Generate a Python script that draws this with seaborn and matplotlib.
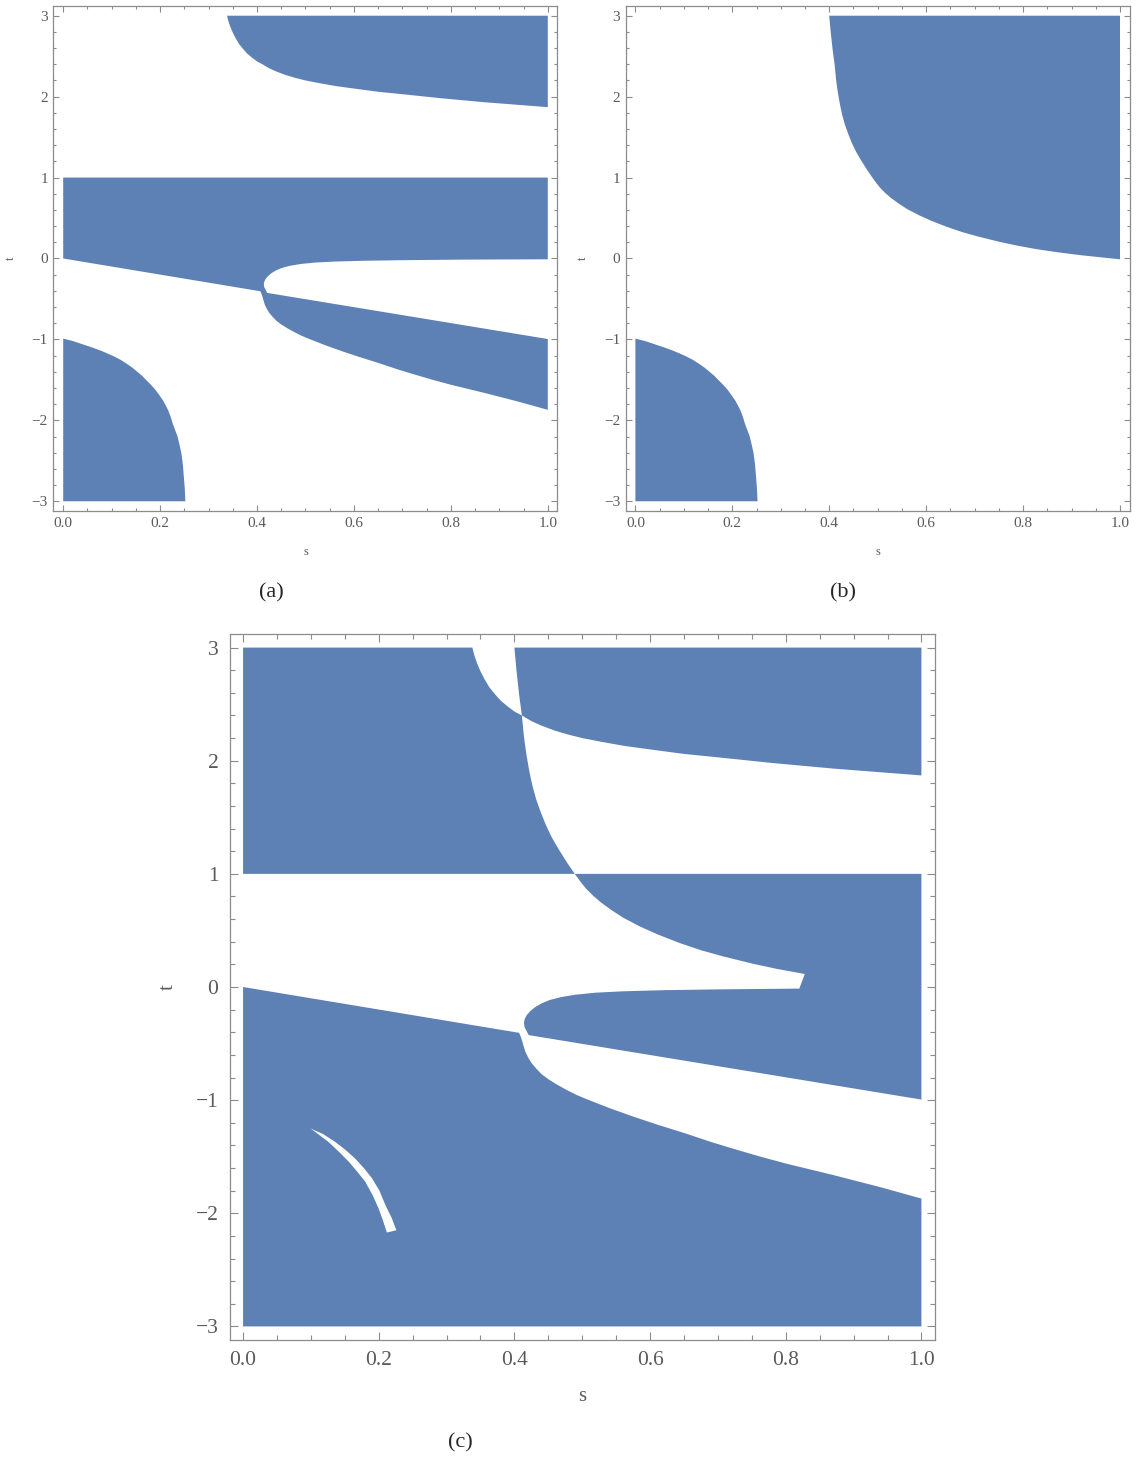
import matplotlib
matplotlib.use("Agg")
import matplotlib.pyplot as plt
from matplotlib.ticker import MultipleLocator, FormatStrFormatter
import seaborn as sns

sns.set_theme(style="ticks")
plt.rcParams["font.family"] = ["Liberation Serif", "DejaVu Serif"]

REGION_BLUE = "#5E81B5"
FRAME_GREY = "#8c8c8c"
LABEL_GREY = "#5a5a5a"

# ---- boundary curves in the (s, t) plane ----
# straight edge t ~ -s, split at the neck near s = 0.41
line_left_s = [0.0, 0.407]
line_left_t = [0.0, -0.405]
line_right_s = [0.421, 1.0]
line_right_t = [-0.425, -0.995]

# upper curve A (top-right region of panel a); it meets F at (0.411, 2.40)
curve_a_s = [0.338, 0.341, 0.345, 0.350, 0.356, 0.363, 0.371, 0.380, 0.390, 0.400,
             0.411, 0.425, 0.440, 0.460, 0.480, 0.500, 0.530, 0.563, 0.600, 0.650,
             0.700, 0.780, 0.871, 1.000]
curve_a_t = [3.00, 2.93, 2.86, 2.79, 2.72, 2.65, 2.59, 2.53, 2.48, 2.435,
             2.40, 2.35, 2.31, 2.265, 2.23, 2.20, 2.165, 2.13, 2.10, 2.06,
             2.03, 1.98, 1.93, 1.87]

# steep curve F (top-right region of panel b)
curve_f_s = [0.400, 0.403, 0.407, 0.411, 0.4143, 0.4178, 0.4222, 0.4265, 0.432, 0.4385,
             0.4465, 0.4553, 0.465, 0.4775, 0.489, 0.4975, 0.5055, 0.5155, 0.527, 0.543,
             0.561, 0.585, 0.611, 0.643, 0.675, 0.708, 0.752, 0.787, 0.828, 0.870,
             0.920, 0.960, 1.000]
curve_f_t = [3.00, 2.80, 2.58, 2.40, 2.20, 2.05, 1.90, 1.78, 1.66, 1.55,
             1.43, 1.32, 1.22, 1.10, 1.00, 0.93, 0.87, 0.81, 0.75, 0.68,
             0.61, 0.535, 0.465, 0.39, 0.325, 0.27, 0.205, 0.16, 0.115, 0.078,
             0.04, 0.015, -0.01]

# tongue edge C, from the neck round its tip and out to s = 1
curve_c_s = [0.418, 0.415, 0.414, 0.415, 0.418, 0.423, 0.430, 0.440, 0.452, 0.468,
             0.490, 0.520, 0.560, 0.620, 0.700, 0.820, 0.900, 1.000]
curve_c_t = [-0.39, -0.355, -0.32, -0.285, -0.25, -0.215, -0.18, -0.145, -0.115, -0.09,
             -0.068, -0.05, -0.038, -0.028, -0.021, -0.014, -0.012, -0.01]

# lower curve D, leaving the neck and running to s = 1
curve_d_s = [0.407, 0.410, 0.413, 0.416, 0.420, 0.425, 0.432, 0.440, 0.450, 0.462,
             0.477, 0.492, 0.508, 0.540, 0.575, 0.610, 0.650, 0.690, 0.723, 0.760,
             0.800, 0.872, 0.940, 1.000]
curve_d_t = [-0.405, -0.45, -0.51, -0.57, -0.62, -0.67, -0.72, -0.77, -0.815, -0.86,
             -0.91, -0.955, -0.995, -1.07, -1.145, -1.215, -1.29, -1.37, -1.43, -1.495,
             -1.56, -1.665, -1.77, -1.87]

# bottom-left curve E
curve_e_s = [0.000, 0.020, 0.040, 0.060, 0.076, 0.090, 0.105, 0.118, 0.131, 0.143,
             0.153, 0.163, 0.172, 0.181, 0.190, 0.198, 0.206, 0.212, 0.217, 0.222,
             0.226, 0.231, 0.236, 0.240, 0.244, 0.247, 0.249, 0.251, 0.252]
curve_e_t = [-0.99, -1.02, -1.06, -1.10, -1.135, -1.17, -1.21, -1.25, -1.30, -1.35,
             -1.40, -1.45, -1.506, -1.56, -1.62, -1.685, -1.754, -1.82, -1.88, -1.96,
             -2.04, -2.12, -2.20, -2.30, -2.41, -2.55, -2.70, -2.85, -3.00]

# thin excluded crescent in panel c (closed outline)
crescent_s = [0.099, 0.118, 0.136, 0.151, 0.165, 0.178, 0.190, 0.201, 0.210, 0.219,
              0.226, 0.212, 0.206, 0.200, 0.191, 0.180, 0.168, 0.156, 0.142, 0.126,
              0.104]
crescent_t = [-1.25, -1.30, -1.37, -1.44, -1.515, -1.60, -1.69, -1.80, -1.93, -2.04,
              -2.15, -2.17, -2.06, -1.96, -1.84, -1.72, -1.63, -1.545, -1.46, -1.37,
              -1.27]

S_MIN, S_MAX = 0.0, 1.0
T_MIN, T_MAX = -3.0, 3.0
T_BAND = 1.0

# vertices where curves meet or where panel c cuts them
A_CROSS = curve_a_s.index(0.411)
F_CROSS = curve_f_s.index(0.411)
F_AT_ONE = curve_f_t.index(T_BAND)
F_CUT = curve_f_s.index(0.828)
C_CUT = curve_c_s.index(0.820)


def pts(xs, ys, lo=None, hi=None, rev=False):
    p = list(zip(xs, ys))[lo:hi]
    return p[::-1] if rev else p


def fill(ax, *pieces, color=REGION_BLUE):
    verts = [v for piece in pieces for v in piece]
    ax.fill([v[0] for v in verts], [v[1] for v in verts], color=color, lw=0,
            antialiased=True, zorder=2)


def style_axes(ax, tick_size, label_size, major_len, minor_len, tpad, xpad, ypad):
    ax.set_xlim(-0.02, 1.02)
    ax.set_ylim(-3.12, 3.12)
    ax.xaxis.set_major_locator(MultipleLocator(0.2))
    ax.xaxis.set_minor_locator(MultipleLocator(0.05))
    ax.yaxis.set_major_locator(MultipleLocator(1))
    ax.yaxis.set_minor_locator(MultipleLocator(0.2))
    ax.xaxis.set_major_formatter(FormatStrFormatter("%.1f"))
    ax.tick_params(which="both", direction="in", top=True, right=True,
                   labeltop=False, labelright=False, color=FRAME_GREY,
                   width=0.8, labelcolor=LABEL_GREY, labelsize=tick_size)
    ax.tick_params(which="major", length=major_len, pad=tpad)
    ax.tick_params(which="minor", length=minor_len)
    for sp in ax.spines.values():
        sp.set_color(FRAME_GREY)
        sp.set_linewidth(0.9)
    ax.set_xlabel("s", fontsize=label_size, color=LABEL_GREY, labelpad=xpad)
    ax.set_ylabel("t", fontsize=label_size, color=LABEL_GREY, labelpad=ypad)
    ax.set_facecolor("white")
    ax.grid(False)


fig = plt.figure(figsize=(11.37, 14.59), dpi=100)
ax_a = fig.add_axes([0.04705, 0.64976, 0.44327, 0.34613])
ax_b = fig.add_axes([0.55030, 0.64976, 0.44327, 0.34613])
ax_c = fig.add_axes([0.20185, 0.08156, 0.62049, 0.48389])

# ---- panel (a) ----
fill(ax_a, pts(curve_a_s, curve_a_t), [(S_MAX, T_MAX)])
fill(ax_a,
     [(S_MIN, T_BAND)],
     pts(line_left_s, line_left_t),
     pts(curve_d_s, curve_d_t, 1),
     pts(line_right_s, line_right_t, rev=True),
     pts(curve_c_s, curve_c_t),
     [(S_MAX, T_BAND)])
fill(ax_a, [(S_MIN, T_MIN)], pts(curve_e_s, curve_e_t))

# ---- panel (b) ----
fill(ax_b, pts(curve_f_s, curve_f_t), [(S_MAX, T_MAX)])
fill(ax_b, [(S_MIN, T_MIN)], pts(curve_e_s, curve_e_t))

# ---- panel (c) ----
fill(ax_c,
     [(S_MIN, T_BAND), (S_MIN, T_MAX)],
     pts(curve_a_s, curve_a_t, 0, A_CROSS + 1),
     pts(curve_f_s, curve_f_t, F_CROSS + 1, F_AT_ONE + 1))
fill(ax_c,
     pts(curve_f_s, curve_f_t, 0, 1),
     [(S_MAX, T_MAX)],
     pts(curve_a_s, curve_a_t, A_CROSS, rev=True),
     pts(curve_f_s, curve_f_t, 1, F_CROSS + 1, rev=True))
fill(ax_c,
     pts(curve_f_s, curve_f_t, F_AT_ONE, F_AT_ONE + 1),
     [(S_MAX, T_BAND)],
     pts(line_right_s, line_right_t, rev=True),
     pts(curve_c_s, curve_c_t, 0, C_CUT + 1),
     pts(curve_f_s, curve_f_t, F_AT_ONE + 1, F_CUT + 1, rev=True))
fill(ax_c,
     pts(line_left_s, line_left_t),
     pts(curve_d_s, curve_d_t, 1),
     [(S_MAX, T_MIN), (S_MIN, T_MIN)])
fill(ax_c, pts(crescent_s, crescent_t), color="white")

style_axes(ax_a, 11, 9, 4, 2.5, 4, 12, 11)
style_axes(ax_b, 11, 9, 4, 2.5, 4, 12, 11)
style_axes(ax_c, 15.5, 15, 6, 3.5, 8, 12, 13)

fig.text(271 / 1137, 1 - 593 / 1459, "(a)", ha="center", va="center", fontsize=16)
fig.text(843 / 1137, 1 - 593 / 1459, "(b)", ha="center", va="center", fontsize=16)
fig.text(460 / 1137, 1 - 1443 / 1459, "(c)", ha="center", va="center", fontsize=16)

fig.savefig("out.png", dpi=100, facecolor="white")
